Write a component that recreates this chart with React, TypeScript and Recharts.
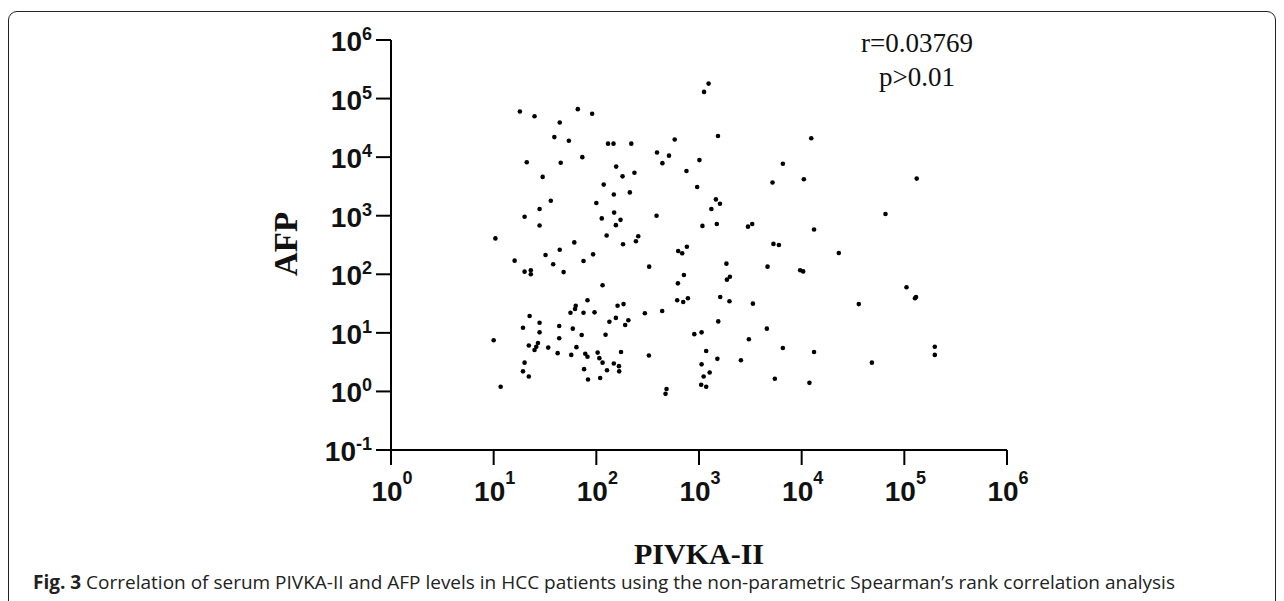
import React from "react";
import { Scatter, ScatterChart, XAxis, YAxis, Label } from "recharts";

// PIVKA-II (x) and AFP (y) per patient
const PIVKA = [
  18, 25, 44, 66, 91, 39, 54, 130, 147, 219, 580, 1240, 1120, 1530, 21, 45, 73, 390, 510, 440,
  1010, 156, 30, 180, 235, 755, 5200, 118, 148, 212, 960, 36, 100, 28, 1460, 1600, 1320, 20, 113, 149,
  172, 386, 28, 155, 1080, 1490, 3000, 3300, 10.4, 126, 256, 243, 182, 61, 44, 32, 16, 38, 20, 23,
  23, 48, 75, 93, 327, 627, 686, 762, 713, 623, 1850, 2000, 1870, 4650, 115, 82, 63, 62, 56, 75,
  96, 161, 184, 297, 438, 613, 702, 780, 1610, 1980, 3350, 22.4, 19.3, 28, 28, 43.5, 43.5, 59, 72, 134,
  155, 205, 191, 123, 1540, 900, 1060, 4580, 3060, 10, 22, 27, 26, 25, 34, 42, 57, 64, 78, 82,
  103, 107, 115, 148, 166, 174, 325, 20, 19.3, 22, 76, 83, 109, 127, 167, 1175, 1510, 1060, 1270, 1110,
  1050, 1175, 2560, 5480, 11.7, 483, 472, 12400, 6560, 10500, 132000, 65500, 13200, 5310, 6000, 23000, 9670, 10340, 105000, 130000,
  127000, 36000, 6560, 13200, 48300, 198000, 198000, 11900,
];
const AFP = [
  60000, 50000, 39000, 66000, 55000, 22000, 19000, 17000, 17000, 17000, 20000, 180000, 130000, 23000, 8200, 8000, 10000, 12000, 10600, 7900,
  8900, 6900, 4600, 4700, 5400, 5800, 3700, 3400, 2300, 2500, 3100, 1800, 1650, 1300, 1900, 1600, 1300, 960, 900, 1130,
  850, 1000, 680, 690, 670, 720, 650, 720, 410, 460, 445, 366, 325, 350, 263, 213, 171, 148, 111, 117,
  100, 109, 169, 219, 135, 250, 228, 296, 97, 70, 152, 91, 81, 135, 65, 36, 29, 25.5, 22, 22,
  22.4, 29, 31, 21.6, 23.6, 36, 33.6, 39, 41, 34.6, 31.5, 19.4, 12.2, 14.9, 10.2, 13.1, 8.1, 11.8, 9.2, 15.5,
  18, 16.4, 13.6, 9.3, 15.7, 9.5, 10.2, 11.8, 7.8, 7.5, 6.1, 6.7, 5.8, 5.1, 5.6, 4.5, 4.2, 5.7, 4.4, 3.9,
  4.6, 3.7, 3.1, 3.0, 2.7, 4.7, 4.1, 3.1, 2.2, 1.8, 2.4, 1.6, 1.7, 2.3, 2.2, 4.9, 3.6, 2.9, 2.1, 1.8,
  1.3, 1.2, 3.4, 1.65, 1.2, 1.1, 0.91, 21000, 7700, 4200, 4300, 1070, 580, 330, 316, 231, 117, 112, 60, 41,
  39, 31, 5.5, 4.7, 3.1, 5.8, 4.2, 1.4,
];

const X_TICKS = [1, 10, 100, 1000, 10000, 100000, 1000000];
const Y_TICKS = [0.1, 1, 10, 100, 1000, 10000, 100000, 1000000];

const points = PIVKA.map((x, i) => ({ x, y: AFP[i] }));

const expOf = (v: number) => Math.round(Math.log10(v));

const tickFont = { fontFamily: "'Liberation Sans', Arial, sans-serif", fontWeight: 700, fill: "#111" };

function XTick({ x, y, payload }: any) {
  return (
    <text x={x + 1} y={y + 33} textAnchor="middle" {...tickFont} fontSize={28}>
      <tspan>10</tspan>
      <tspan dy={-17} fontSize={18}>{expOf(payload.value)}</tspan>
    </text>
  );
}

function YTick({ x, y, payload }: any) {
  return (
    <text x={x - 1} y={y + 11} textAnchor="end" {...tickFont} fontSize={28}>
      <tspan>10</tspan>
      <tspan dy={-11} fontSize={18}>{expOf(payload.value)}</tspan>
    </text>
  );
}

const Dot = ({ cx, cy }: any) => <circle cx={cx} cy={cy} r={2.3} fill="#000" />;

export default function App() {
  return (
    <div
      style={{
        position: "absolute",
        left: 0,
        top: 0,
        width: 1284,
        height: 601,
        overflow: "hidden",
        background: "#fff",
      }}
    >
      <div
        style={{
          position: "absolute",
          left: 8,
          top: 11,
          width: 1268,
          height: 600,
          border: "1.5px solid #222",
          borderRadius: 9,
          boxSizing: "border-box",
        }}
      />
      <ScatterChart width={1284} height={601} margin={{ top: 40, right: 277, bottom: 0, left: 0 }}>
        <XAxis
          dataKey="x"
          type="number"
          scale="log"
          domain={[1, 1000000]}
          ticks={X_TICKS}
          height={151}
          allowDataOverflow
          axisLine={{ stroke: "#000", strokeWidth: 2 }}
          tickLine={{ stroke: "#000", strokeWidth: 2 }}
          tickSize={15}
          tickMargin={3}
          tick={<XTick />}
          interval={0}
        >
          <Label
            content={({ viewBox }: any) => (
              <text
                x={viewBox.x + viewBox.width / 2}
                y={viewBox.y + 114}
                textAnchor="middle"
                fontFamily="'Liberation Serif', 'Times New Roman', serif"
                fontWeight={700}
                fontSize={30}
                fill="#111"
              >
                PIVKA-II
              </text>
            )}
          />
        </XAxis>
        <YAxis
          dataKey="y"
          type="number"
          scale="log"
          domain={[0.1, 1000000]}
          ticks={Y_TICKS}
          width={391}
          allowDataOverflow
          axisLine={{ stroke: "#000", strokeWidth: 2 }}
          tickLine={{ stroke: "#000", strokeWidth: 2 }}
          tickSize={15}
          tickMargin={3}
          tick={<YTick />}
          interval={0}
        >
          <Label
            content={({ viewBox }: any) => {
              const cx = 297;
              const cy = viewBox.y + viewBox.height / 2 - 1;
              return (
                <text
                  x={cx}
                  y={cy}
                  transform={`rotate(-90, ${cx}, ${cy})`}
                  textAnchor="middle"
                  fontFamily="'Liberation Serif', 'Times New Roman', serif"
                  fontWeight={700}
                  fontSize={33}
                  fill="#111"
                >
                  AFP
                </text>
              );
            }}
          />
        </YAxis>
        <Scatter data={points} shape={<Dot />} isAnimationActive={false} />
      </ScatterChart>
      <div
        style={{
          position: "absolute",
          left: 817,
          top: 26,
          width: 200,
          textAlign: "center",
          fontFamily: "'Liberation Serif', 'Times New Roman', serif",
          fontSize: 27,
          lineHeight: "34px",
          color: "#111",
        }}
      >
        <div>r=0.03769</div>
        <div>p&gt;0.01</div>
      </div>
      <div
        style={{
          position: "absolute",
          left: 33,
          top: 573,
          whiteSpace: "nowrap",
          fontFamily: "'Open Sans', 'Noto Sans', sans-serif",
          fontSize: 19,
          lineHeight: "19px",
          color: "#222",
        }}
      >
        <b>Fig. 3</b> Correlation of serum PIVKA-II and AFP levels in HCC patients using the non-parametric
        Spearman’s rank correlation analysis
      </div>
    </div>
  );
}
